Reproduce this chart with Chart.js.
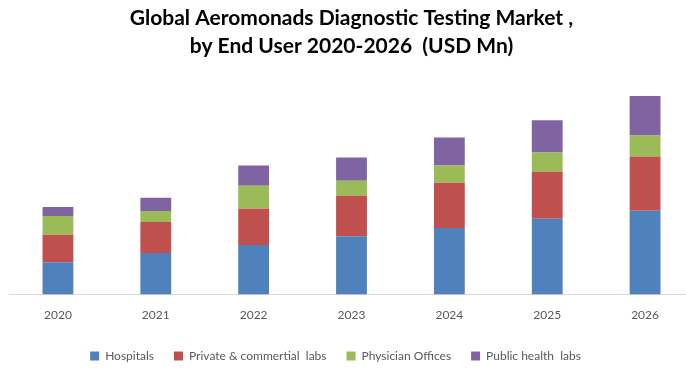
<!DOCTYPE html>
<html>
<head>
<meta charset="utf-8">
<script src="https://cdn.jsdelivr.net/npm/chart.js@4"></script>
<style>
  html, body { margin: 0; padding: 0; background: #fff; overflow: hidden; }
  #wrap { width: 696px; height: 377px; }
</style>
</head>
<body>
<div id="wrap"><canvas id="myChart" width="696" height="377"></canvas></div>
<script>
// years on the x axis
const years = ['2020', '2021', '2022', '2023', '2024', '2025', '2026'];

// stacked segments (no y axis shown, so relative units)
const hospitals = [32, 41.3, 49.3, 58, 66, 75.3, 83.3];
const privateLabs = [27.3, 30.7, 36, 40, 45, 46.7, 53.7];
const physicianOffices = [18.7, 11, 22.7, 15, 17, 19, 21];
const publicLabs = [9, 13, 20, 23, 28, 32, 39];

const titleLines = ['Global Aeromonads Diagnostic Testing Market ,', 'by End User 2020-2026  (USD Mn)'];

// nudge the legend left and up, like the original
const legendShift = {
    id: 'legendShift',
    afterLayout(chart) {
        chart.legend.left -= 16;
        chart.legend.right -= 16;
        chart.legend.top -= 5;
        chart.legend.bottom -= 5;
    }
};

var ctx = document.getElementById('myChart').getContext('2d');

var myChart = new Chart(ctx, { // eslint-disable-line
    type: 'bar',
    data: {
        labels: years,
        datasets: [
            { label: 'Hospitals', data: hospitals, backgroundColor: '#4f81bd' },
            { label: 'Private & commertial  labs', data: privateLabs, backgroundColor: '#c0504d' },
            { label: 'Physician Offices', data: physicianOffices, backgroundColor: '#9bbb59' },
            { label: 'Public health  labs', data: publicLabs, backgroundColor: '#8064a2' }
        ]
    },
    options: {
        responsive: false,
        animation: false,
        layout: {
            padding: { left: 9, right: 2, top: 0, bottom: 0 }
        },
        datasets: {
            bar: {
                categoryPercentage: 1,
                barPercentage: 0.315
            }
        },
        scales: {
            x: {
                stacked: true,
                grid: { display: true, drawOnChartArea: false, drawTicks: false },
                border: { color: '#d9d9d9', width: 1 },
                ticks: {
                    padding: 13,
                    color: '#595959',
                    font: { family: 'Lato', size: 12 }
                }
            },
            y: {
                stacked: true,
                display: false,
                min: 0,
                max: 210
            }
        },
        plugins: {
            title: {
                display: true,
                text: titleLines,
                color: '#000',
                font: { family: 'Lato', size: 21, weight: 'bold', lineHeight: 1.333 },
                padding: { top: 4, bottom: 23 }
            },
            legend: {
                position: 'bottom',
                labels: {
                    color: '#595959',
                    font: { family: 'Lato', size: 12 },
                    boxWidth: 9,
                    boxHeight: 9,
                    padding: 20
                }
            },
            tooltip: { enabled: false }
        }
    },
    plugins: [legendShift]
});
</script>
</body>
</html>
